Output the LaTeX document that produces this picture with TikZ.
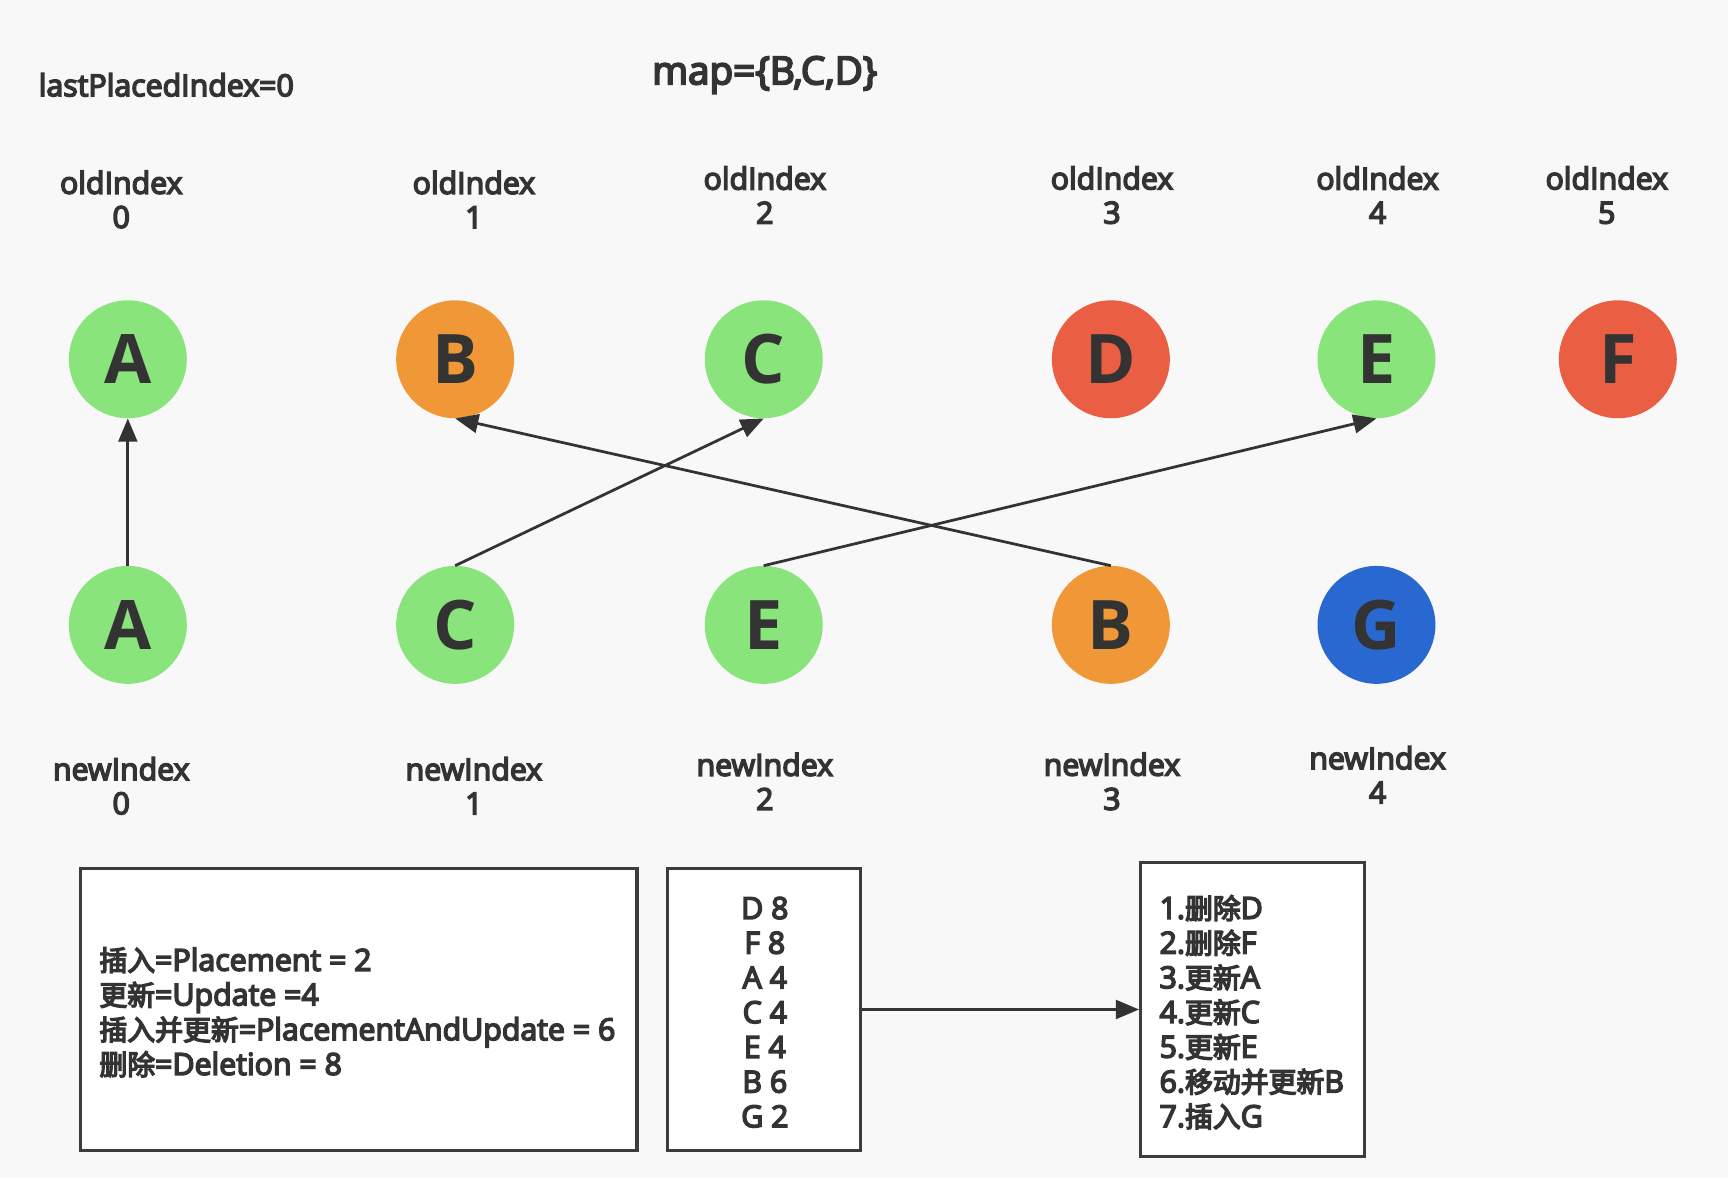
\documentclass[tikz,border=0pt]{standalone}
\usepackage{fontspec}
\setmainfont{Open Sans}
\newfontfamily\lblfont{Open Sans}[FakeBold=5]
\newfontfamily\cjk{Noto Sans CJK SC}[FakeBold=5,Scale=0.92]
\newcommand\zh[1]{{\cjk #1}}
\usetikzlibrary{arrows.meta}
\definecolor{bg}{HTML}{F8F8F8}
\definecolor{txt}{HTML}{333333}
\definecolor{linec}{HTML}{333333}
\definecolor{boxline}{HTML}{3C3C3C}
\definecolor{ngreen}{HTML}{88E47B}
\definecolor{norange}{HTML}{F09838}
\definecolor{nred}{HTML}{EA5E44}
\definecolor{nblue}{HTML}{2968D0}
\tikzset{
  lbl/.style={font=\lblfont\fontsize{27.5}{30}\selectfont, text=txt, inner sep=0pt},
  idx/.style={font=\lblfont\fontsize{27.5}{31}\selectfont, text=txt, inner sep=0pt, align=center},
  ball/.style={circle, minimum size=107pt, inner sep=0pt, text=txt, font=\bfseries\fontsize{62}{62}\selectfont},
  arr/.style={draw=linec, line width=2.5pt, -{Triangle[length=21pt,width=17pt]}},
  boxr/.style={draw=boxline, line width=2.8pt, fill=white, inner sep=0pt},
  boxtxt/.style={font=\lblfont\fontsize{27.5}{31.5}\selectfont, text=txt, inner sep=0pt},
}
\begin{document}
\begin{tikzpicture}[x=1pt,y=-1pt]
\path[fill=bg] (0,0) rectangle (1568,1069);
\useasboundingbox (0,0) rectangle (1568,1069);

\node[lbl, anchor=west] (lpi) at (35,77) {lastPlacedIndex=0};
\node[lbl, font=\lblfont\fontsize{35}{38}\selectfont] (map) at (694,68) {map=\{B,C,D\}};

% oldIndex labels
\node[idx] (o0) at (110,181) {oldIndex\\0};
\node[idx] (o1) at (430,181) {oldIndex\\1};
\node[idx] (o2) at (694,177) {oldIndex\\2};
\node[idx] (o3) at (1009,177) {oldIndex\\3};
\node[idx] (o4) at (1250,177) {oldIndex\\4};
\node[idx] (o5) at (1458,177) {oldIndex\\5};

% top row
\node[ball, fill=ngreen] (tA) at (116,326) {A};
\node[ball, fill=norange] (tB) at (413,326) {B};
\node[ball, fill=ngreen] (tC) at (693,326) {C};
\node[ball, fill=nred] (tD) at (1008,326) {D};
\node[ball, fill=ngreen] (tE) at (1249,326) {E};
\node[ball, fill=nred] (tF) at (1468,326) {F};

% bottom row
\node[ball, fill=ngreen] (bA) at (116,567) {A};
\node[ball, fill=ngreen] (bC) at (413,567) {C};
\node[ball, fill=ngreen] (bE) at (693,567) {E};
\node[ball, fill=norange] (bB) at (1008,567) {B};
\node[ball, fill=nblue] (bG) at (1249,567) {G};

% newIndex labels
\node[idx] (n0) at (110,713) {newIndex\\0};
\node[idx] (n1) at (430,713) {newIndex\\1};
\node[idx] (n2) at (694,709) {newIndex\\2};
\node[idx] (n3) at (1009,709) {newIndex\\3};
\node[idx] (n4) at (1250,703) {newIndex\\4};

% arrows
\draw[arr] (bA.north) -- (tA.south);
\draw[arr] (bC.north) -- (tC.south);
\draw[arr] (bB.north) -- (tB.south);
\draw[arr] (bE.north) -- (tE.south);

% boxes
\node[boxr, minimum width=505pt, minimum height=256pt] (box1) at (325.5,916) {};
\node[boxr, minimum width=175pt, minimum height=256pt] (box2) at (693.5,916) {};
\node[boxr, minimum width=203pt, minimum height=266pt] (box3) at (1136.5,916) {};

\node[boxtxt, anchor=west, align=left] (t1) at (90,918.5) {\zh{插入}=Placement = 2\\\zh{更新}=Update =4\\\zh{插入并更新}=PlacementAndUpdate = 6\\\zh{删除}=Deletion = 8};
\node[boxtxt, align=center] (t2) at (694,918.5) {D 8\\F 8\\A 4\\C 4\\E 4\\B 6\\G 2};
\node[boxtxt, anchor=west, align=left] (t3) at (1052,918.5) {1.\zh{删除}D\\2.\zh{删除}F\\3.\zh{更新}A\\4.\zh{更新}C\\5.\zh{更新}E\\6.\zh{移动并更新}B\\7.\zh{插入}G};

\draw[arr] (box2.east) -- (box3.west);
\end{tikzpicture}
\end{document}
